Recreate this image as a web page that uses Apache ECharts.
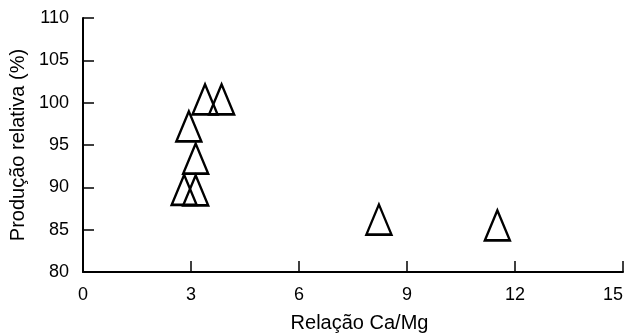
<!DOCTYPE html>
<html>
<head>
<meta charset="utf-8">
<script src="https://cdn.jsdelivr.net/npm/echarts@6/dist/echarts.min.js"></script>
<style>html,body{margin:0;padding:0;background:#fff}#c{width:630px;height:335px}</style>
</head>
<body>
<div id="c"></div>
<script>
// Data
var xValues = [2.81, 3.13, 3.13, 2.94, 3.39, 3.85, 8.22, 11.51];
var yValues = [89.7, 89.65, 93.4, 97.2, 100.4, 100.4, 86.2, 85.5];
var xTicks = [0, 3, 6, 9, 12, 15];
var yTicks = [80, 85, 90, 95, 100, 105, 110];
var xName = 'Relação Ca/Mg';
var yName = 'Produção relativa (%)';

var points = xValues.map(function (x, i) { return [x, yValues[i]]; });
var font = '"Liberation Sans", Arial, Helvetica, sans-serif';

var chart = echarts.init(document.getElementById('c'), null, {renderer: 'canvas'});
chart.setOption({
  animation: false,
  backgroundColor: '#fff',
  grid: {left: 83, right: 7, top: 18, bottom: 63, containLabel: false, outerBoundsMode: 'none'},
  xAxis: {
    type: 'value',
    min: xTicks[0], max: xTicks[xTicks.length - 1], interval: 3,
    name: xName, nameLocation: 'middle', nameGap: 41,
    nameTextStyle: {fontFamily: font, fontSize: 20, color: '#000', padding: [0, 0, 0, 13]},
    axisLine: {show: true, onZero: false, lineStyle: {color: '#000', width: 2}},
    axisTick: {show: true, inside: true, length: 11, lineStyle: {color: '#000', width: 1.5}},
    axisLabel: {fontFamily: font, fontSize: 18, color: '#000', margin: 14, alignMaxLabel: 'right'},
    splitLine: {show: false}
  },
  yAxis: {
    type: 'value',
    min: yTicks[0], max: yTicks[yTicks.length - 1], interval: 5,
    name: yName, nameLocation: 'middle', nameGap: 52, nameRotate: 90,
    nameTextStyle: {fontFamily: font, fontSize: 20, color: '#000'},
    axisLine: {show: true, onZero: false, lineStyle: {color: '#000', width: 2}},
    axisTick: {show: true, inside: true, length: 11, lineStyle: {color: '#000', width: 1.5}},
    axisLabel: {fontFamily: font, fontSize: 18, color: '#000', margin: 14},
    splitLine: {show: false}
  },
  series: [{
    type: 'scatter',
    data: points,
    symbol: 'triangle',
    symbolSize: [25, 30],
    itemStyle: {color: 'rgba(0,0,0,0)', borderColor: '#000', borderWidth: 2.5, opacity: 1},
    emphasis: {disabled: true}
  }]
});
</script>
</body>
</html>
